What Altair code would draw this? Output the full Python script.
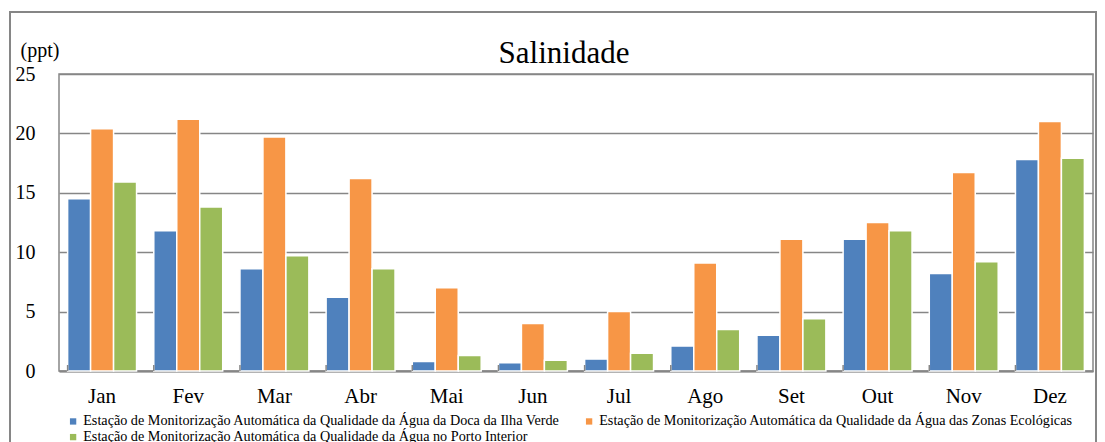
import altair as alt
import pandas as pd

months = ["Jan", "Fev", "Mar", "Abr", "Mai", "Jun", "Jul", "Ago", "Set", "Out", "Nov", "Dez"]
series_names = [
    "Estação de Monitorização Automática da Qualidade da Água da Doca da Ilha Verde",
    "Estação de Monitorização Automática da Qualidade da Água das Zonas Ecológicas",
    "Estação de Monitorização Automática da Qualidade da Água no Porto Interior",
]
ilha_verde = [14.5, 11.8, 8.6, 6.2, 0.8, 0.7, 1.0, 2.1, 3.0, 11.1, 8.2, 17.8]
zonas_ecologicas = [20.4, 21.2, 19.7, 16.2, 7.0, 4.0, 5.0, 9.1, 11.1, 12.5, 16.7, 21.0]
porto_interior = [15.9, 13.8, 9.7, 8.6, 1.3, 0.9, 1.5, 3.5, 4.4, 11.8, 9.2, 17.9]
colors = ["#4F81BD", "#F79646", "#9BBB59"]
y_ticks = [0, 5, 10, 15, 20, 25]
title_text = ["Salinidade"]

rows = []
for name, vals in zip(series_names, [ilha_verde, zonas_ecologicas, porto_interior]):
    for m, v in zip(months, vals):
        rows.append({"month": m, "series": name, "value": v})
df = pd.DataFrame(rows)

W, H = 1034, 297
FONT = "'Liberation Serif', 'Times New Roman', 'DejaVu Serif', serif"

x_enc = alt.X("month:N", sort=months, title=None,
              scale=alt.Scale(paddingInner=0.2, paddingOuter=0.1),
              axis=alt.Axis(labelAngle=0, labelFontSize=21, labelFont=FONT, labelColor="#000",
                            labelPadding=14, ticks=False, domainColor="#868686",
                            domainWidth=2, grid=False))

legend_order = [series_names[0], series_names[2], series_names[1]]

bars = alt.Chart(df).mark_bar(stroke="white", strokeWidth=1.5).encode(
    x=x_enc,
    xOffset=alt.XOffset("series:N", sort=series_names, scale=alt.Scale(paddingInner=0)),
    y=alt.Y("value:Q", scale=alt.Scale(domain=[0, 25]),
            axis=alt.Axis(values=y_ticks, title="(ppt)", titleAngle=0, titleAlign="left",
                          titleBaseline="alphabetic", titleX=-39, titleY=-18,
                          titleFont=FONT, titleFontSize=20, titleFontWeight="normal",
                          titleColor="#000",
                          labelFont=FONT, labelFontSize=20, labelColor="#000",
                          labelPadding=24, ticks=False, domain=False,
                          gridColor="#868686", gridWidth=1.5)),
    color=alt.Color("series:N", sort=series_names,
                    scale=alt.Scale(domain=series_names, range=colors),
                    legend=alt.Legend(title=None, orient="none", legendX=7, legendY=340,
                                      values=legend_order,
                                      columns=2, columnPadding=22, rowPadding=1,
                                      labelFont=FONT, labelFontSize=14.2, labelColor="#000",
                                      labelOffset=3,
                                      symbolType="square", symbolSize=40,
                                      symbolStrokeWidth=0, labelLimit=600)),
)

ticks = alt.Chart(pd.DataFrame({"month": months})).mark_rule(color="#868686", strokeWidth=1.5).encode(
    x=alt.X("month:N", sort=months, bandPosition=0),
    y=alt.value(H - 6),
    y2=alt.value(H),
)

frame = alt.Chart(pd.DataFrame({"a": [0]})).mark_rect(
    fill=None, stroke="#868686", strokeWidth=2
).encode(
    x=alt.value(-49), x2=alt.value(W + 3), y=alt.value(-62), y2=alt.value(H + 90)
)

title = alt.Chart(pd.DataFrame({"t": title_text})).mark_text(
    font=FONT, fontSize=31, color="#000", align="center", baseline="alphabetic"
).encode(
    text="t:N", x=alt.value(W / 2 - 12), y=alt.value(-11)
)

chart = alt.layer(frame, bars, ticks, title).properties(
    width=W, height=H,
    autosize=alt.AutoSizeParams(type="none"),
    padding={"left": 51, "top": 66, "right": 4, "bottom": 71},
).configure_view(stroke="#868686", strokeWidth=1.5)

chart.save("out.html", embed_options={"renderer": "svg", "actions": False})
